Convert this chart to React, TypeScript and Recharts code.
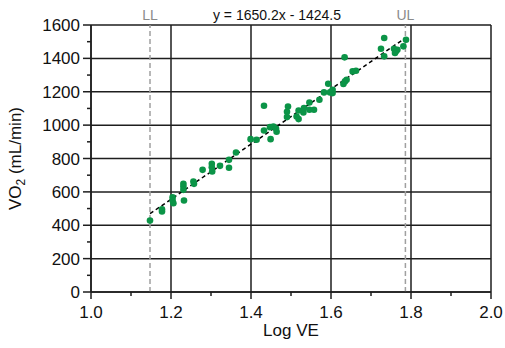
import React from 'react';
import { ScatterChart, Scatter, XAxis, YAxis, CartesianGrid, ReferenceLine, Label } from 'recharts';

const logVE = [1.1475, 1.1775, 1.1775, 1.204, 1.204, 1.206, 1.231, 1.231, 1.231, 1.2325, 1.256, 1.2575, 1.279, 1.302, 1.302, 1.303, 1.3225, 1.345, 1.345, 1.3625, 1.399, 1.414, 1.4325, 1.4325, 1.4475, 1.449, 1.456, 1.4625, 1.464, 1.49, 1.49, 1.4925, 1.514, 1.519, 1.519, 1.531, 1.5325, 1.546, 1.546, 1.5575, 1.571, 1.5825, 1.593, 1.5975, 1.604, 1.604, 1.634, 1.631, 1.635, 1.639, 1.654, 1.6625, 1.725, 1.733, 1.733, 1.7575, 1.7625, 1.766, 1.76, 1.781, 1.7875];
const vo2 = [428, 496, 482, 568, 548, 532, 648, 632, 612, 548, 662, 648, 732, 768, 748, 722, 756, 745, 792, 836, 916, 912, 968, 1116, 988, 916, 992, 980, 960, 1080, 1048, 1112, 1052, 1088, 1036, 1076, 1102, 1136, 1092, 1092, 1152, 1196, 1248, 1196, 1192, 1212, 1406, 1246, 1262, 1272, 1322, 1326, 1458, 1522, 1412, 1458, 1442, 1452, 1432, 1472, 1512];

const xMajor = [1.0, 1.2, 1.4, 1.6, 1.8, 2.0];
const xTicks = [1.0, 1.1, 1.2, 1.3, 1.4, 1.5, 1.6, 1.7, 1.8, 1.9, 2.0];
const yMajor = [0, 200, 400, 600, 800, 1000, 1200, 1400, 1600];
const yTicks = [0, 100, 200, 300, 400, 500, 600, 700, 800, 900, 1000, 1100, 1200, 1300, 1400, 1500, 1600];

const LL = 1.1475;
const UL = 1.786;
const slope = 1650.2;
const intercept = -1424.5;
const equation = 'y = 1650.2x - 1424.5';

const points = logVE.map((x, i) => ({ x, y: vo2[i] }));
const fitSegment = [
  { x: LL, y: slope * LL + intercept },
  { x: UL, y: slope * UL + intercept },
];

const FONT = '"Liberation Sans", Arial, sans-serif';
const INK = '#1e1e1e';
const GREEN = '#0b9447';

const isMajor = (v: number, list: number[]) => list.some((m) => Math.abs(m - v) < 1e-6);

const XTick = (props: any) => {
  const { x, y, payload } = props;
  const v = payload.value as number;
  const major = isMajor(v, xMajor);
  return (
    <g>
      <line x1={x} x2={x} y1={y} y2={y + (major ? 7 : 4)} stroke={INK} strokeWidth={1.5} />
      {major && (
        <text x={x} y={y + 26} textAnchor="middle" fontSize={17} fill="#111" fontFamily={FONT}>
          {v.toFixed(1)}
        </text>
      )}
    </g>
  );
};

const YTick = (props: any) => {
  const { x, y, payload } = props;
  const v = payload.value as number;
  const major = isMajor(v, yMajor);
  return (
    <g>
      <line x1={x - (major ? 8 : 4)} x2={x} y1={y} y2={y} stroke={INK} strokeWidth={1.5} />
      {major && (
        <text x={x - 11} y={y} dy="0.36em" textAnchor="end" fontSize={17} fill="#111" fontFamily={FONT}>
          {v}
        </text>
      )}
    </g>
  );
};

const YLabel = (props: any) => {
  const vb = props.viewBox || { x: 0, y: 25, width: 91, height: 267 };
  const cx = vb.x + 15;
  const cy = vb.y + vb.height / 2;
  return (
    <text
      x={cx}
      y={cy}
      dy="0.36em"
      transform={`rotate(-90, ${cx}, ${cy})`}
      textAnchor="middle"
      fontSize={17}
      fill="#111"
      fontFamily={FONT}
    >
      VO
      <tspan dy={4} fontSize={12}>2</tspan>
      <tspan dy={-4}> (mL/min)</tspan>
    </text>
  );
};

const XLabel = (props: any) => {
  const vb = props.viewBox || { x: 91, y: 292, width: 400, height: 56 };
  return (
    <text x={vb.x + vb.width / 2} y={vb.y + 44} textAnchor="middle" fontSize={17} fill="#111" fontFamily={FONT}>
      Log VE
    </text>
  );
};

const Dot = (p: any) => <circle cx={p.cx} cy={p.cy} r={3.3} fill={GREEN} />;

export default function App() {
  return (
    <div style={{ position: 'absolute', left: 0, top: 0, width: 505, height: 348, background: '#fff' }}>
      <ScatterChart width={505} height={348} margin={{ top: 25, right: 14, bottom: 0, left: 0 }}>
        <CartesianGrid
          stroke={INK}
          strokeWidth={1.5}
          horizontalValues={yMajor}
          verticalValues={xMajor}
        />
        <XAxis
          dataKey="x"
          type="number"
          domain={[1, 2]}
          ticks={xTicks}
          interval={0}
          height={56}
          tickSize={0}
          tickMargin={0}
          tickLine={false}
          tick={<XTick />}
          axisLine={{ stroke: INK, strokeWidth: 1.5 }}
          allowDataOverflow
          label={<Label content={<XLabel />} />}
        />
        <YAxis
          dataKey="y"
          type="number"
          domain={[0, 1600]}
          ticks={yTicks}
          interval={0}
          width={91}
          tickSize={0}
          tickMargin={0}
          tickLine={false}
          tick={<YTick />}
          axisLine={{ stroke: INK, strokeWidth: 1.5 }}
          allowDataOverflow
          label={<Label content={<YLabel />} />}
        />
        <ReferenceLine
          x={LL}
          stroke="#a0a0a0"
          strokeWidth={1.5}
          strokeDasharray="5 3"
          label={{ value: 'LL', position: 'top', fill: '#8a8a8a', fontSize: 14, fontFamily: FONT }}
        />
        <ReferenceLine
          x={UL}
          stroke="#a0a0a0"
          strokeWidth={1.5}
          strokeDasharray="5 3"
          label={{ value: 'UL', position: 'top', fill: '#8a8a8a', fontSize: 14, fontFamily: FONT }}
        />
        <Scatter data={points} fill={GREEN} shape={<Dot />} isAnimationActive={false} />
        <ReferenceLine
          segment={fitSegment}
          stroke="#000"
          strokeWidth={1.5}
          strokeDasharray="4 3"
        />
      </ScatterChart>
      <div
        style={{
          position: 'absolute',
          left: 0,
          top: 7,
          width: 554,
          textAlign: 'center',
          fontSize: 14,
          lineHeight: '16px',
          fontFamily: FONT,
          color: '#111',
          whiteSpace: 'nowrap',
        }}
      >
        {equation}
      </div>
    </div>
  );
}
